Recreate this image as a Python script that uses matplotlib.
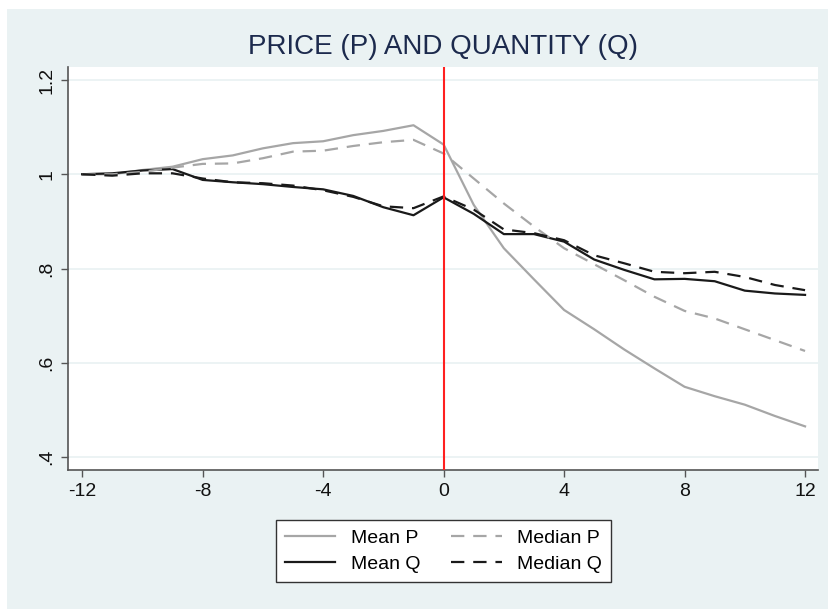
import matplotlib
matplotlib.use("Agg")
import matplotlib.pyplot as plt
from matplotlib.patches import Rectangle

plt.rcParams['font.family'] = ['Liberation Sans', 'DejaVu Sans']

# event time (months relative to the event)
months = list(range(-12, 13))

mean_p = [1.000, 1.000, 1.009, 1.016, 1.032, 1.040, 1.055, 1.066, 1.070, 1.083,
          1.092, 1.104, 1.063, 0.935, 0.843, 0.777, 0.712, 0.671, 0.628, 0.588,
          0.549, 0.529, 0.511, 0.487, 0.465]
median_p = [1.000, 1.000, 1.005, 1.014, 1.022, 1.023, 1.034, 1.048, 1.050, 1.060,
            1.068, 1.073, 1.044, 0.991, 0.938, 0.889, 0.843, 0.809, 0.775, 0.740,
            0.710, 0.694, 0.671, 0.648, 0.625]
mean_q = [1.000, 1.002, 1.008, 1.011, 0.988, 0.983, 0.979, 0.973, 0.968, 0.954,
          0.930, 0.913, 0.951, 0.916, 0.873, 0.873, 0.857, 0.819, 0.797, 0.777,
          0.778, 0.773, 0.753, 0.747, 0.744]
median_q = [1.000, 0.997, 1.002, 1.002, 0.991, 0.983, 0.981, 0.976, 0.966, 0.952,
            0.932, 0.928, 0.953, 0.925, 0.883, 0.875, 0.860, 0.828, 0.811, 0.793,
            0.790, 0.793, 0.782, 0.765, 0.754]

xticks = [-12, -8, -4, 0, 4, 8, 12]
yticks = [0.4, 0.6, 0.8, 1.0, 1.2]
ytick_labels = ['.4', '.6', '.8', '1', '1.2']

bg = '#eaf2f3'
W, H = 829, 609

fig = plt.figure(figsize=(W / 100, H / 100), dpi=100, facecolor='white')
# Stata-style outer panel, kept behind the axes
fig.patches.append(Rectangle((7 / W, 0), 1 - 7 / W, 1 - 9 / H, transform=fig.transFigure,
                             facecolor=bg, edgecolor='none', zorder=-10))

ax = fig.add_axes([68 / W, 1 - 470 / H, (818 - 68) / W, (470 - 67) / H])
ax.set_facecolor('white')

ax.plot(months, mean_p, color='#a6a6a6', lw=1.6, label='Mean P')
ax.plot(months, mean_q, color='#1a1a1a', lw=1.6, label='Mean Q')
ax.plot(months, median_p, color='#a6a6a6', lw=1.6, ls=(0, (6, 4)), label='Median P')
ax.plot(months, median_q, color='#1a1a1a', lw=1.6, ls=(0, (6, 4)), label='Median Q')
ax.axvline(0, color='#ff2020', lw=1.5, zorder=5)

ax.set_xlim(-12.47, 12.43)
ax.set_ylim(0.3724, 1.2276)
ax.set_xticks(xticks)
ax.set_xticklabels([str(t) for t in xticks])
ax.set_yticks(yticks)
ax.set_yticklabels(ytick_labels, rotation=90, va='center')
ax.tick_params(axis='both', direction='out', length=5, width=1, color='#555555',
               labelsize=14, labelcolor='#111111', pad=4)
ax.grid(axis='y', color=bg, lw=1.3)
ax.set_axisbelow(True)

for side in ['top', 'right']:
    ax.spines[side].set_visible(False)
for side in ['left', 'bottom']:
    ax.spines[side].set_color('#555555')
    ax.spines[side].set_linewidth(1.2)

fig.text(443 / W, 1 - 47 / H, 'PRICE (P) AND QUANTITY (Q)', ha='center', va='center',
         fontsize=20, color='#1c2a4d')

handles, labels = ax.get_legend_handles_labels()
leg = fig.legend(handles, labels, ncol=2, loc='center', bbox_to_anchor=(443.5 / W, 1 - 551 / H),
                 fontsize=14, frameon=True, fancybox=False, edgecolor='#333333', framealpha=1,
                 handlelength=2.6, handletextpad=0.8, columnspacing=1.6, borderpad=0.45,
                 labelspacing=0.45)
leg.get_frame().set_linewidth(1.0)

fig.savefig('out.png', dpi=100, facecolor='white')
